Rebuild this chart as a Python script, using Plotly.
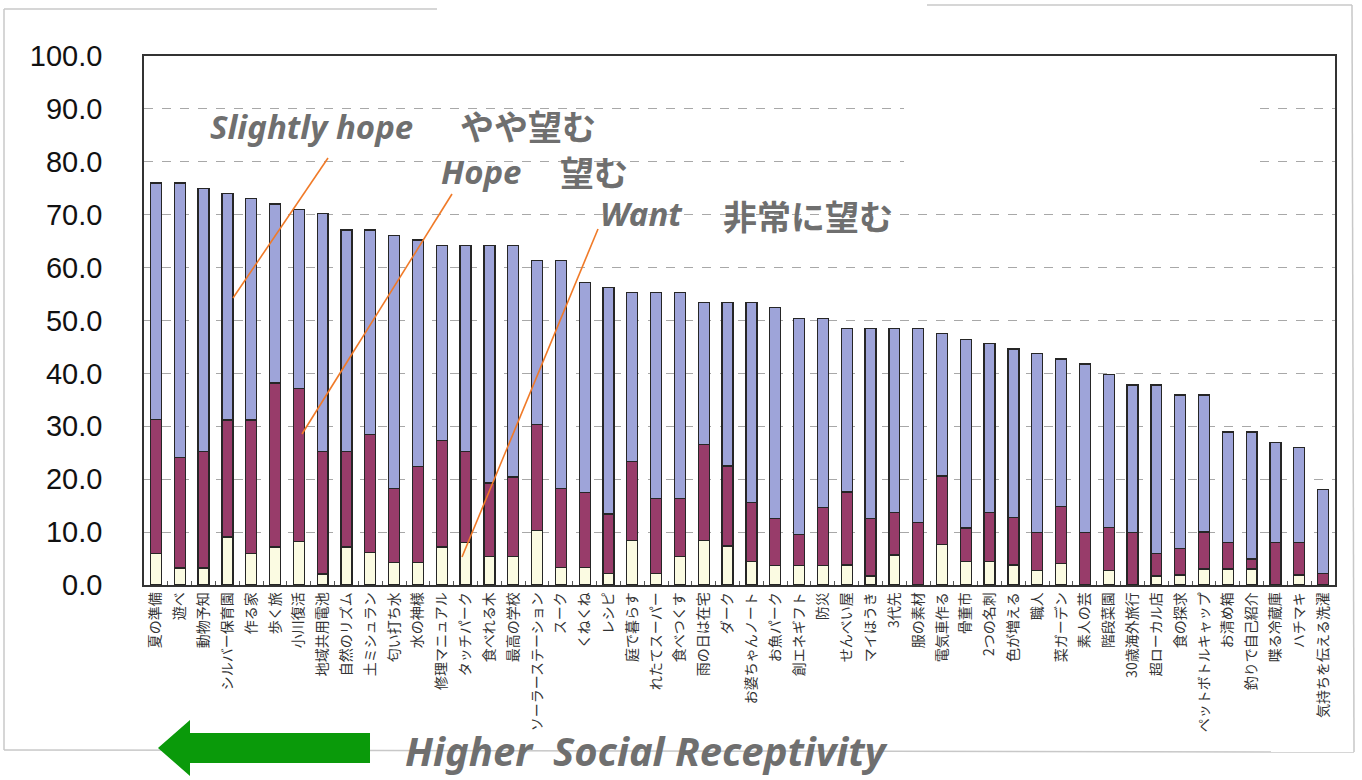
import plotly.graph_objects as go

# Categories (ordered by total share, highest first)
categories = [
    "夏の準備", "遊べ", "動物予知", "シルバー保育園", "作る家", "歩く旅", "小川復活",
    "地域共用電池", "自然のリズム", "土ミシュラン", "匂い打ち水", "水の神様", "修理マニュアル",
    "タッチパーク", "食べれる木", "最高の学校", "ソーラーステーション", "スーク", "くねくね",
    "レシピ", "庭で暮らす", "れたてスーパー", "食べつくす", "雨の日は在宅", "ダーク",
    "お婆ちゃんノート", "お魚パーク", "創エネギフト", "防災", "せんべい屋", "マイほうき",
    "3代先", "服の素材", "電気車作る", "骨董市", "2つの名刺", "色が増える", "職人",
    "菜ガーデン", "素人の芸", "階段菜園", "30歳海外旅行", "超ローカル店", "食の探求",
    "ペットボトルキャップ", "お清め箱", "釣りで自己紹介", "喋る冷蔵庫", "ハチマキ",
    "気持ちを伝える洗濯",
]

# Share of respondents (%) per answer
want = [6.0, 3.2, 3.2, 9.1, 6.0, 7.2, 8.2, 2.1, 7.2, 6.1, 4.2, 4.2, 7.2, 8.0, 5.4, 5.4,
        10.3, 3.3, 3.3, 2.2, 8.4, 2.2, 5.4, 8.4, 7.4, 4.5, 3.7, 3.7, 3.7, 3.8, 1.7, 5.7,
        0.0, 7.6, 4.5, 4.5, 3.8, 2.8, 4.0, 0.0, 2.8, 0.0, 1.7, 1.9, 3.0, 3.0, 3.0, 0.0,
        1.9, 0.0]
hope = [25.3, 20.9, 22.0, 22.1, 25.2, 31.0, 29.0, 23.1, 18.0, 22.3, 14.1, 18.2, 20.1,
        17.3, 13.9, 15.0, 20.1, 15.0, 14.2, 11.2, 15.0, 14.2, 11.0, 18.1, 15.1, 11.1,
        8.9, 5.9, 10.9, 13.8, 10.9, 8.0, 11.8, 13.0, 6.3, 9.2, 8.9, 7.1, 10.8, 9.9, 8.1,
        9.9, 4.3, 5.0, 7.0, 5.1, 1.9, 8.1, 6.2, 2.2]
slightly_hope = [44.7, 51.9, 49.8, 42.8, 41.8, 33.8, 33.8, 45.0, 41.9, 38.7, 47.8, 42.8,
                 36.9, 38.9, 44.9, 43.8, 30.9, 43.0, 39.7, 42.9, 31.9, 38.9, 38.9, 26.9,
                 30.9, 37.8, 39.9, 40.8, 35.8, 30.9, 35.9, 34.8, 36.7, 27.0, 35.6, 32.0,
                 31.9, 33.8, 27.9, 31.9, 28.9, 27.9, 31.8, 29.0, 25.9, 20.8, 24.0, 18.9,
                 17.9, 15.8]

y_ticks = [0, 10, 20, 30, 40, 50, 60, 70, 80, 90, 100]

W, H = 1362, 780
L, R, T, B = 144, 1335, 56, 585


def px(x):
    return (x - L) / (R - L)


def py(y):
    return (B - y) / (B - T)


outline = dict(color="#262626", width=1.3)
fig = go.Figure()
fig.add_trace(go.Bar(x=categories, y=want, name="Want 非常に望む",
                     marker=dict(color="#fbfbe2", line=outline)))
fig.add_trace(go.Bar(x=categories, y=hope, name="Hope 望む",
                     marker=dict(color="#983c6a", line=outline)))
fig.add_trace(go.Bar(x=categories, y=slightly_hope, name="Slightly hope やや望む",
                     marker=dict(color="#9ea4d9", line=outline)))

shapes = []
# blank (white) legend box sitting over the upper gridlines
shapes.append(dict(type="rect", xref="paper", yref="paper", layer="above",
                   x0=px(904), x1=px(1256), y0=py(92), y1=py(186),
                   fillcolor="white", line=dict(width=0)))

# pointer lines from the labels into the bars
orange = dict(color="#f07a28", width=1.6)
for (x0, y0, x1, y1) in [(233, 298, 328, 158), (302, 434, 452, 194), (462, 557, 598, 229)]:
    shapes.append(dict(type="line", xref="paper", yref="paper",
                       x0=px(x0), y0=py(y0), x1=px(x1), y1=py(y1), line=orange))

# outer frame
frame = dict(color="#c8c8c8", width=1.5)
for (x0, y0, x1, y1) in [(4, 9, 437, 9), (4, 9, 4, 750), (927, 5, 1352, 5),
                         (1352, 5, 1354, 752), (4, 750, 1354, 752)]:
    shapes.append(dict(type="line", xref="paper", yref="paper",
                       x0=px(x0), y0=py(y0), x1=px(x1), y1=py(y1), line=frame))

# green arrow pointing left
arrow_pts = [(370, 733), (190, 733), (190, 720), (158, 748), (190, 776), (190, 763), (370, 763)]
path = "M " + " L ".join(f"{px(a):.5f},{py(b):.5f}" for a, b in arrow_pts) + " Z"
shapes.append(dict(type="path", xref="paper", yref="paper", path=path,
                   fillcolor="#0a9a0a", line=dict(width=0)))

gray = "#6f6f6f"
en_font = dict(family="Noto Sans, Open Sans, sans-serif", size=33, color=gray, weight="bold", style="italic")
jp_font = dict(family="Noto Sans CJK JP", size=34, color=gray, weight="bold")


def label(text, x, y, font):
    return dict(text=text, xref="paper", yref="paper", x=px(x), y=py(y),
                xanchor="center", yanchor="middle", showarrow=False, font=font)


annotations = [
    label("Slightly hope", 311, 126, en_font),
    label("やや望む", 528, 125, jp_font),
    label("Hope", 481, 171, en_font),
    label("望む", 594, 171, jp_font),
    label("Want", 641, 214, en_font),
    label("非常に望む", 808, 215, jp_font),
    label("Higher&nbsp;&nbsp;Social Receptivity", 646, 751,
          dict(family="Noto Sans, Open Sans, sans-serif", size=40, color=gray,
               weight="bold", style="italic")),
]

fig.update_layout(
    width=W, height=H,
    margin=dict(l=L, r=W - R, t=T, b=H - B, pad=0),
    barmode="stack", bargap=0.54,
    plot_bgcolor="white", paper_bgcolor="white",
    showlegend=False,
    shapes=shapes, annotations=annotations,
    font=dict(family="Liberation Sans, Arial, sans-serif"),
)
fig.update_xaxes(
    type="category", tickangle=-90,
    tickfont=dict(family="Noto Sans CJK JP", size=14, color="#333333"),
    showline=True, linecolor="#333333", linewidth=1.5, mirror=True,
    ticks="inside", tickson="boundaries", ticklen=4, tickcolor="#555555",
    showgrid=False,
)
fig.update_yaxes(
    range=[0, 100], tickvals=y_ticks, tickformat=".1f",
    tickfont=dict(family="Liberation Sans, Arial, sans-serif", size=29, color="#111111"),
    showline=True, linecolor="#333333", linewidth=1.5, mirror=True,
    showgrid=True, gridcolor="#a8a8a8", griddash="dash", gridwidth=1,
    zeroline=False, ticks="", ticklabelstandoff=34,
)

fig.write_html("out.html")
